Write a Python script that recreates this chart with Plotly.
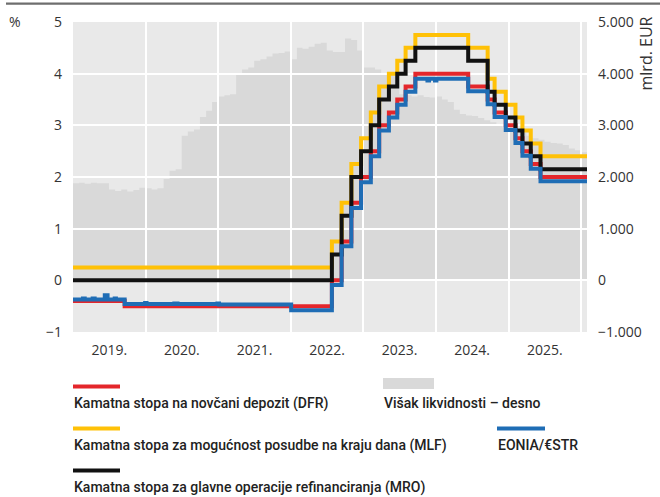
import plotly.graph_objects as go

# ---------------- data ----------------
policy_dates = ["2019-01-01", "2019-09-18", "2022-07-27", "2022-09-14", "2022-11-02", "2022-12-21",
                "2023-02-08", "2023-03-22", "2023-05-10", "2023-06-21", "2023-08-02", "2023-09-20",
                "2024-06-12", "2024-09-18", "2024-10-23", "2024-12-18", "2025-02-05", "2025-03-12",
                "2025-04-23", "2025-06-11", "2026-01-31"]
dfr = [-0.40, -0.50, 0.00, 0.75, 1.50, 2.00, 2.50, 3.00, 3.25, 3.50, 3.75, 4.00,
       3.75, 3.50, 3.25, 3.00, 2.75, 2.50, 2.25, 2.00, 2.00]
mro = [0.00, 0.00, 0.50, 1.25, 2.00, 2.50, 3.00, 3.50, 3.75, 4.00, 4.25, 4.50,
       4.25, 3.65, 3.40, 3.15, 2.90, 2.65, 2.40, 2.15, 2.15]
mlf = [0.25, 0.25, 0.75, 1.50, 2.25, 2.75, 3.25, 3.75, 4.00, 4.25, 4.50, 4.75,
       4.50, 3.90, 3.65, 3.40, 3.15, 2.90, 2.65, 2.40, 2.40]

estr_dates = ["2019-01-01", "2019-02-20", "2019-03-01", "2019-04-10", "2019-04-20", "2019-06-10",
              "2019-06-24", "2019-07-30", "2019-08-05", "2019-09-18", "2019-12-30", "2020-01-06",
              "2020-05-25", "2020-06-10", "2020-12-28", "2021-01-05", "2022-01-03", "2022-07-27",
              "2022-09-14", "2022-11-02", "2022-12-21", "2023-02-08", "2023-03-22", "2023-05-10",
              "2023-06-21", "2023-08-02", "2023-09-20", "2023-11-20", "2023-11-28", "2023-12-28",
              "2024-01-04", "2024-06-12", "2024-09-18", "2024-10-23", "2024-12-18", "2025-02-05",
              "2025-03-12", "2025-04-23", "2025-06-11", "2026-01-31"]
estr = [-0.37, -0.35, -0.37, -0.35, -0.37, -0.29,
        -0.37, -0.35, -0.37, -0.46, -0.44, -0.46,
        -0.45, -0.46, -0.45, -0.47, -0.58, -0.09,
        0.66, 1.40, 1.90, 2.40, 2.90, 3.15,
        3.40, 3.65, 3.90, 3.87, 3.90, 3.87,
        3.90, 3.66, 3.41, 3.16, 2.91, 2.66,
        2.41, 2.16, 1.92, 1.93]

liq_dates = ["2019-01-01", "2019-02-01", "2019-03-01", "2019-04-01", "2019-05-01", "2019-06-01",
             "2019-07-01", "2019-08-01", "2019-09-01", "2019-10-01", "2019-11-01", "2019-12-01",
             "2020-01-01", "2020-02-01", "2020-03-01", "2020-04-01", "2020-05-01", "2020-06-01",
             "2020-07-01", "2020-08-01", "2020-09-01", "2020-10-01", "2020-11-01", "2020-12-01",
             "2021-01-01", "2021-02-01", "2021-03-01", "2021-04-01", "2021-05-01", "2021-06-01",
             "2021-07-01", "2021-08-01", "2021-09-01", "2021-10-01", "2021-11-01", "2021-12-01",
             "2022-01-01", "2022-02-01", "2022-03-01", "2022-04-01", "2022-05-01", "2022-06-01",
             "2022-07-01", "2022-08-01", "2022-09-01", "2022-10-01", "2022-11-01", "2022-12-01",
             "2023-01-01", "2023-02-01", "2023-03-01", "2023-04-01", "2023-05-01", "2023-06-01",
             "2023-07-01", "2023-08-01", "2023-09-01", "2023-10-01", "2023-11-01", "2023-12-01",
             "2024-01-01", "2024-02-01", "2024-03-01", "2024-04-01", "2024-05-01", "2024-06-01",
             "2024-07-01", "2024-08-01", "2024-09-01", "2024-10-01", "2024-11-01", "2024-12-01",
             "2025-01-01", "2025-02-01", "2025-03-01", "2025-04-01", "2025-05-01", "2025-06-01",
             "2025-07-01", "2025-08-01", "2025-09-01", "2025-10-01", "2025-11-01", "2025-12-01",
             "2026-01-01", "2026-01-31"]
liquidity = [1880, 1890, 1870, 1890, 1880, 1880,
             1760, 1730, 1760, 1720, 1750, 1790,
             1780, 1760, 1780, 1960, 2120, 2150,
             2800, 2880, 2920, 3160, 3280, 3450,
             3560, 3580, 3600, 3990, 4080, 4120,
             4250, 4280, 4330, 4390, 4400, 4430,
             4280, 4500, 4480, 4520, 4580, 4600,
             4450, 4420, 4420, 4680, 4650, 4450,
             4120, 4120, 4080, 4000, 3980, 3950,
             3600, 3580, 3560, 3580, 3550, 3540,
             3560, 3500, 3450, 3300, 3220, 3190,
             3180, 3140, 3100, 3060, 3020, 2960,
             2930, 2900, 2860, 2800, 2750, 2720,
             2680, 2660, 2650, 2620, 2550, 2520,
             2480, 2480]

left_ticks = [-1, 0, 1, 2, 3, 4, 5]
left_labels = ["−1", "0", "1", "2", "3", "4", "5"]
right_ticks = [-1000, 0, 1000, 2000, 3000, 4000, 5000]
right_labels = ["−1.000", "0", "1.000", "2.000", "3.000", "4.000", "5.000"]

legend_names = {
    "dfr": "Kamatna stopa na novčani depozit (DFR)",
    "mlf": "Kamatna stopa za mogućnost posudbe na kraju dana (MLF)",
    "mro": "Kamatna stopa za glavne operacije refinanciranja (MRO)",
    "liq": "Višak likvidnosti – desno",
    "estr": "EONIA/€STR",
}

RED = "#e4262b"
YELLOW = "#ffc107"
BLACK = "#111111"
BLUE = "#1f6db5"
AREA = "#d9d9d9"
BG = "#e9e9e9"
TXT = "#333333"

X_RANGE = ["2019-01-01", "2026-01-31"]

# ---------------- figure ----------------
fig = go.Figure()

fig.add_trace(go.Scatter(x=liq_dates, y=liquidity, mode="lines", line=dict(width=0, shape="hv"),
                         fill="tozeroy", fillcolor=AREA, xaxis="x", yaxis="y",
                         name=legend_names["liq"], showlegend=False, hoverinfo="skip"))

for vals, col, key in [(mlf, YELLOW, "mlf"), (dfr, RED, "dfr"), (mro, BLACK, "mro")]:
    fig.add_trace(go.Scatter(x=policy_dates, y=vals, mode="lines",
                             line=dict(color=col, width=4, shape="hv"),
                             xaxis="x2", yaxis="y2", name=legend_names[key], showlegend=False))
fig.add_trace(go.Scatter(x=estr_dates, y=estr, mode="lines",
                         line=dict(color=BLUE, width=4, shape="hv"),
                         xaxis="x2", yaxis="y2", name=legend_names["estr"], showlegend=False))

L, R, T, B = 73, 587, 22, 332
W, H = R - L, B - T


def px(x):
    return (x - L) / W


def py(y):
    return (B - y) / H


tick_font = dict(family="Open Sans, sans-serif", size=14, color=TXT)
title_font = dict(family="Open Sans, sans-serif", size=16, color=TXT)
leg_font = dict(family="Roboto, sans-serif", size=14, color="#222222", weight=500)

shapes = [
    dict(type="rect", xref="paper", yref="paper", x0=0, x1=1, y0=0, y1=1,
         fillcolor=BG, line=dict(width=0), layer="below"),
    dict(type="rect", xref="paper", yref="paper", x0=px(6), x1=px(660), y0=py(4.8), y1=py(2.6),
         fillcolor="#6e6e6e", line=dict(width=0)),
    dict(type="line", xref="paper", yref="paper", x0=px(73), x1=px(120), y0=py(386.5), y1=py(386.5),
         line=dict(color=RED, width=4)),
    dict(type="line", xref="paper", yref="paper", x0=px(73), x1=px(120), y0=py(428.5), y1=py(428.5),
         line=dict(color=YELLOW, width=4)),
    dict(type="line", xref="paper", yref="paper", x0=px(73), x1=px(120), y0=py(470.5), y1=py(470.5),
         line=dict(color=BLACK, width=4)),
    dict(type="rect", xref="paper", yref="paper", x0=px(383), x1=px(434), y0=py(389), y1=py(378),
         fillcolor=AREA, line=dict(width=0)),
    dict(type="line", xref="paper", yref="paper", x0=px(497), x1=px(545), y0=py(428.5), y1=py(428.5),
         line=dict(color=BLUE, width=4)),
]

annotations = [
    dict(text="%", xref="paper", yref="paper", x=px(7), y=py(21.5), xanchor="left", yanchor="middle",
         showarrow=False, font=tick_font),
    dict(text="mlrd. EUR", xref="paper", yref="paper", x=px(646), y=py(53.5), xanchor="center",
         yanchor="middle", textangle=-90, showarrow=False, font=title_font),
    dict(text=legend_names["dfr"], xref="paper", yref="paper", x=px(72), y=py(403),
         xanchor="left", yanchor="middle", showarrow=False, font=leg_font),
    dict(text=legend_names["mlf"], xref="paper", yref="paper", x=px(72), y=py(445),
         xanchor="left", yanchor="middle", showarrow=False, font=leg_font),
    dict(text=legend_names["mro"], xref="paper", yref="paper", x=px(72), y=py(487),
         xanchor="left", yanchor="middle", showarrow=False, font=leg_font),
    dict(text=legend_names["liq"], xref="paper", yref="paper", x=px(382), y=py(403),
         xanchor="left", yanchor="middle", showarrow=False, font=leg_font),
    dict(text=legend_names["estr"], xref="paper", yref="paper", x=px(496), y=py(445),
         xanchor="left", yanchor="middle", showarrow=False, font=leg_font),
]

fig.update_layout(
    width=660, height=497,
    margin=dict(l=L, r=660 - R, t=T, b=497 - B),
    paper_bgcolor="white",
    plot_bgcolor="rgba(0,0,0,0)",
    showlegend=False,
    hovermode=False,
    shapes=shapes,
    annotations=annotations,
    xaxis=dict(domain=[0, 1], range=X_RANGE, type="date", visible=False, anchor="y"),
    yaxis=dict(domain=[0, 1], range=[-1000, 5000], side="right", anchor="x",
               tickvals=right_ticks, ticktext=right_labels, showgrid=False, zeroline=False,
               tickfont=tick_font, ticks="", ticklabelstandoff=10, showline=False),
    xaxis2=dict(domain=[0, 1], range=X_RANGE, type="date", anchor="y2",
                dtick="M12", tick0="2019-01-01", tickformat="%Y.", ticklabelmode="period",
                showgrid=True, gridcolor="white", gridwidth=1.5, zeroline=False,
                tickfont=tick_font, ticks="", ticklabelstandoff=8, showline=False),
    yaxis2=dict(domain=[0, 1], range=[-1, 5], side="left", anchor="x2",
                tickvals=left_ticks, ticktext=left_labels, showgrid=True, gridcolor="white",
                gridwidth=1.5, zeroline=False, tickfont=tick_font, ticks="",
                ticklabelstandoff=10, showline=False),
)

fig.write_html(
    "out.html",
    config={"displayModeBar": False},
    post_script="document.body.style.margin='0';document.body.style.overflow='hidden';",
)
